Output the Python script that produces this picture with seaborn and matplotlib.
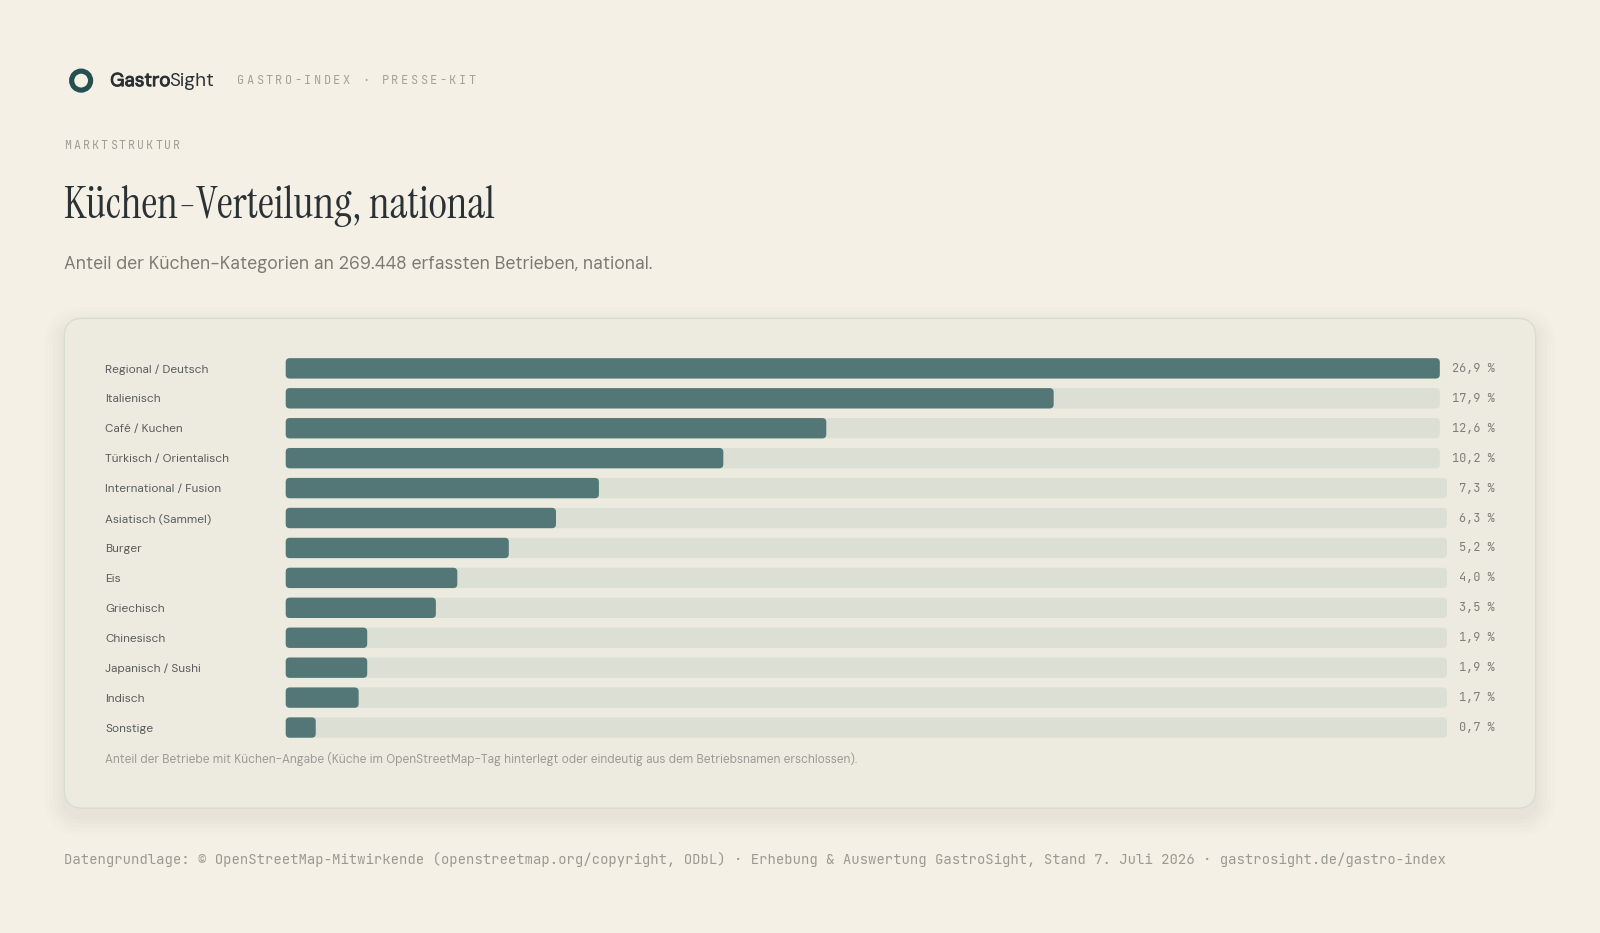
import numpy as np
import pandas as pd
import matplotlib
matplotlib.use("Agg")
import matplotlib.pyplot as plt
import matplotlib.transforms as mtransforms
import matplotlib.patheffects as pe
from matplotlib.patches import FancyBboxPatch, Circle
import seaborn as sns

# data
categories = ["Regional / Deutsch", "Italienisch", "Café / Kuchen", "Türkisch / Orientalisch",
              "International / Fusion", "Asiatisch (Sammel)", "Burger", "Eis", "Griechisch",
              "Chinesisch", "Japanisch / Sushi", "Indisch", "Sonstige"]
share = [26.9, 17.9, 12.6, 10.2, 7.3, 6.3, 5.2, 4.0, 3.5, 1.9, 1.9, 1.7, 0.7]
share_labels = [f"{v:.1f} %".replace(".", ",") for v in share]

df = pd.DataFrame({"kueche": categories, "anteil": share})
# track length: shorter value labels leave a little more room for the track
df["track"] = np.where(df["anteil"] >= 10, 1.0, 1.0062) * df["anteil"].max()

BG = "#f4f0e5"
CARD = "#edebe0"
TRACK = "#dcdfd4"
FILL = "#527776"
SANS = ["DM Sans", "Inter", "DejaVu Sans"]
MONO = ["JetBrains Mono", "DejaVu Sans Mono"]
SERIF = ["Instrument Serif", "Liberation Serif", "DejaVu Serif"]

sns.set_theme(style="white")
plt.rcParams["font.family"] = SANS

# layout grid: 1568 units wide (pixels = units * S)
W = 1568
S = 1600 / W
H = 933 / S
fig = plt.figure(figsize=(16, 9.33), dpi=100, facecolor=BG)

bg = fig.add_axes([0, 0, 1, 1], zorder=0)
bg.set_xlim(0, W)
bg.set_ylim(H, 0)
bg.axis("off")
bg.set_facecolor(BG)

# card with soft shadow
for i, a in enumerate([0.018, 0.016, 0.014, 0.012, 0.01]):
    g = 3 + i * 4
    bg.add_patch(FancyBboxPatch((63 - g, 312 - g + 8), 1442 + 2 * g, 480 + 2 * g,
                                boxstyle=f"round,pad=0,rounding_size={18 + g}",
                                fc="#6d6a55", ec="none", alpha=a))
bg.add_patch(FancyBboxPatch((63, 312), 1442, 480, boxstyle="round,pad=0,rounding_size=18",
                            fc=CARD, ec="#d8ddd4", lw=1.0))

# header
bg.add_patch(Circle((79.5, 79), 9.3, fc="none", ec="#24504f", lw=3.7))
t1 = bg.text(108, 80, "Gastro", fontsize=13.5, color="#2a3034", va="center", ha="left",
             family=SANS, path_effects=[pe.withStroke(linewidth=0.7, foreground="#2a3034")])
fig.canvas.draw()
bb = t1.get_window_extent()
bg.text(108 + bb.width / S - 1, 80, "Sight", fontsize=13.5, color="#2a3034", va="center",
        ha="left", family=SANS)


def spaced(x, y, s, step, **kw):
    for i, ch in enumerate(s):
        bg.text(x + i * step, y, ch, ha="left", va="center", family=MONO, **kw)


spaced(232, 79, "GASTRO-INDEX · PRESSE-KIT", 9.45, fontsize=8.6, color="#a4a39a")
spaced(63, 143, "MARKTSTRUKTUR", 8.9, fontsize=8.4, color="#a09f97")

bg.text(63, 213.5, "Küchen-Verteilung, national", fontsize=31.8, color="#2b3236",
        va="baseline", ha="left", family=SERIF)
bg.text(63, 259, "Anteil der Küchen-Kategorien an 269.448 erfassten Betrieben, national.",
        fontsize=12.7, color="#7b7b73", va="center", ha="left")

bg.text(103, 744, "Anteil der Betriebe mit Küchen-Angabe (Küche im OpenStreetMap-Tag hinterlegt "
        "oder eindeutig aus dem Betriebsnamen erschlossen).",
        fontsize=8.55, color="#9a9b94", va="center", ha="left")

bg.text(63, 842, "Datengrundlage: © OpenStreetMap-Mitwirkende (openstreetmap.org/copyright, ODbL) "
        "· Erhebung & Auswertung GastroSight, Stand 7. Juli 2026 · gastrosight.de/gastro-index",
        fontsize=10.1, color="#9b9a92", va="center", ha="left", family=MONO)

# bar chart axes
x0_u, x1_u = 280, 1411
row_top, row_step = 361, (713 - 361) / 12
n = len(categories)
ax_top = row_top - row_step / 2
ax_h = row_step * n
ax = fig.add_axes([x0_u / W, 1 - (ax_top + ax_h) / H, (x1_u - x0_u) / W, ax_h / H], zorder=1)
ax.patch.set_alpha(0)

sns.barplot(data=df, x="track", y="kueche", color=TRACK, saturation=1, width=0.68, ax=ax)
sns.barplot(data=df, x="anteil", y="kueche", color=FILL, saturation=1, width=0.68, ax=ax)

ax.set_xlim(0, df["anteil"].max())
ax.set_ylim(n - 0.5, -0.5)

# round the bar corners
x_per_u = df["anteil"].max() / (x1_u - x0_u)
y_per_u = 1 / row_step
r_u = 4
for p in list(ax.patches):
    x, y, w, h = p.get_x(), p.get_y(), p.get_width(), p.get_height()
    fb = FancyBboxPatch((x, y), w, h,
                        boxstyle=f"round,pad=0,rounding_size={r_u * x_per_u}",
                        mutation_aspect=y_per_u / x_per_u,
                        fc=p.get_facecolor(), ec="none", clip_on=False, zorder=p.get_zorder())
    p.remove()
    ax.add_patch(fb)

# value labels
tr = mtransforms.blended_transform_factory(fig.transFigure, ax.transData)
for i, lab in enumerate(share_labels):
    ax.text(1465 / W, i, lab, transform=tr, ha="right", va="center", fontsize=8.6,
            color="#7d7f7a", family=MONO)

ax.set_xlabel("")
ax.set_ylabel("")
ax.set_xticks([])
ax.tick_params(axis="y", length=0, pad=(x0_u - 103) * S * 0.72, labelsize=8.5,
               labelcolor="#575b59")
for lab in ax.get_yticklabels():
    lab.set_ha("left")
sns.despine(ax=ax, left=True, bottom=True)

fig.savefig("out.png", dpi=100, facecolor=BG)
